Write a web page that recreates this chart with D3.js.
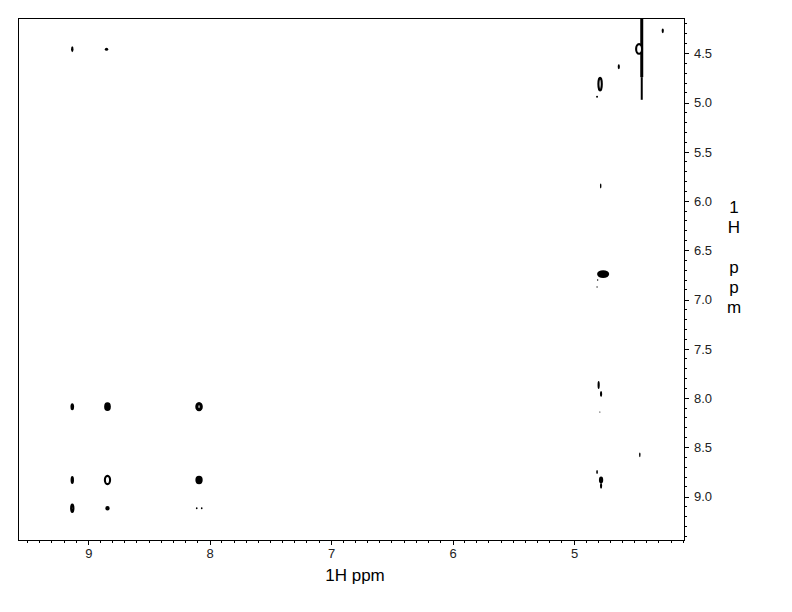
<!DOCTYPE html>
<html><head><meta charset="utf-8">
<script src="https://cdn.jsdelivr.net/npm/d3@7"></script>
<style>body{margin:0;background:#fff}svg{display:block}</style>
</head><body>
<script>
// Axis domains (ppm)
const f2Domain = [9.579, 4.094];
const f1Domain = [4.1396, 9.4396];
const f2MajorTicks = [9, 8, 7, 6, 5];
const f1MajorTicks = [4.5, 5.0, 5.5, 6.0, 6.5, 7.0, 7.5, 8.0, 8.5, 9.0];
const xTitle = "1H ppm";
const yTitleLines = ["1", "H", "", "p", "p", "m"];

// Cross peaks: F2 (ppm), F1 (ppm), extent in F2 (ppm), extent in F1 (ppm), kind
const peakF2 = [9.132, 8.850, 4.269, 4.631, 4.464, 4.785, 4.810, 4.780, 4.760, 4.805, 4.810,
                4.797, 4.777, 4.787, 4.458, 4.810, 4.777, 4.777,
                9.132, 8.842, 8.088, 9.132, 8.842, 8.088, 9.132, 8.842, 8.107, 8.066];
const peakF1 = [4.457, 4.457, 4.270, 4.634, 4.454, 4.810, 4.940, 5.845, 6.740, 6.800, 6.870,
                7.866, 7.957, 8.140, 8.575, 8.750, 8.830, 8.890,
                8.086, 8.086, 8.086, 8.830, 8.830, 8.830, 9.117, 9.117, 9.117, 9.117];
const peakW = [0.020, 0.028, 0.018, 0.018, 0.066, 0.045, 0.016, 0.012, 0.100, 0.012, 0.010,
               0.018, 0.018, 0.010, 0.012, 0.014, 0.035, 0.018,
               0.030, 0.055, 0.062, 0.028, 0.060, 0.060, 0.036, 0.036, 0.014, 0.014];
const peakH = [0.060, 0.032, 0.050, 0.050, 0.120, 0.150, 0.020, 0.050, 0.080, 0.015, 0.015,
               0.080, 0.060, 0.012, 0.050, 0.040, 0.070, 0.060,
               0.072, 0.088, 0.095, 0.082, 0.105, 0.085, 0.095, 0.045, 0.020, 0.020];
const peakKind = ["fill","fill","fill","fill","ring","ring","fill","fill","fill","fill","fill",
                  "fill","fill","fill","fill","fill","fill","fill",
                  "fill","fill","thick","fill","ring","fill","ring","ring","fill","fill"];

// t1-noise streak at the strong diagonal signal
const streakF2 = [4.442, 4.442];
const streakF1Start = [4.1396, 4.74];
const streakF1End = [4.74, 4.97];

const W = 792, H = 612;
const mLeft = 18, mRight = 684, mTop = 18, mBottom = 540;

const svg = d3.select("body").append("svg").attr("width", W).attr("height", H);
const x = d3.scaleLinear().domain(f2Domain).range([mLeft, mRight]);
const y = d3.scaleLinear().domain(f1Domain).range([mTop, mBottom]);

const font = "'Liberation Sans', Arial, sans-serif";

// Frame
svg.append("rect").attr("x", mLeft).attr("y", mTop).attr("width", mRight - mLeft).attr("height", mBottom - mTop)
  .attr("fill", "none").attr("stroke", "#000").attr("stroke-width", 1)
  .attr("shape-rendering", "crispEdges");

// Streak
svg.append("g").selectAll("line").data(streakF2).join("line")
  .attr("x1", d => x(d)).attr("x2", d => x(d))
  .attr("y1", (d, i) => y(streakF1Start[i])).attr("y2", (d, i) => y(streakF1End[i]))
  .attr("stroke", "#000").attr("stroke-width", (d, i) => i === 0 ? 3 : 2);

// Peaks
const strokeFor = k => k === "thick" ? 3.2 : k === "ring" ? 2.1 : 0;
const peaks = peakF2.map((d, i) => ({f2: d, f1: peakF1[i], w: peakW[i], h: peakH[i], kind: peakKind[i]}));
svg.append("g").selectAll("ellipse").data(peaks).join("ellipse")
  .attr("cx", d => x(d.f2)).attr("cy", d => y(d.f1))
  .attr("rx", d => Math.max(0.6, Math.abs(x(d.f2 + d.w / 2) - x(d.f2)) - strokeFor(d.kind) / 2))
  .attr("ry", d => Math.max(0.6, Math.abs(y(d.f1 + d.h / 2) - y(d.f1)) - strokeFor(d.kind) / 2))
  .attr("fill", d => d.kind === "fill" ? "#000" : "#fff")
  .attr("stroke", d => d.kind === "fill" ? "none" : "#000")
  .attr("stroke-width", d => strokeFor(d.kind));

// Bottom axis
const xAxis = d3.axisBottom(x).tickValues(f2MajorTicks).tickSize(5).tickPadding(4).tickFormat(d3.format("d"));
const gx = svg.append("g").attr("transform", `translate(0,${mBottom})`).call(xAxis);
const xMinor = d3.range(95, 40, -1).map(v => v / 10).filter(v => v <= f2Domain[0] && v >= f2Domain[1] && Math.abs(v - Math.round(v)) > 1e-6);
svg.append("g").selectAll("line").data(xMinor).join("line")
  .attr("x1", d => x(d)).attr("x2", d => x(d)).attr("y1", mBottom).attr("y2", mBottom + 3)
  .attr("stroke", "#000").attr("shape-rendering", "crispEdges");

// Right axis
const yAxis = d3.axisRight(y).tickValues(f1MajorTicks).tickSize(5).tickPadding(5).tickFormat(d3.format(".1f"));
const gy = svg.append("g").attr("transform", `translate(${mRight},0)`).call(yAxis);
const yMinor = d3.range(42, 95, 1).map(v => v / 10).filter(v => v >= f1Domain[0] && v <= f1Domain[1] && Math.abs(v * 2 - Math.round(v * 2)) > 1e-6);
svg.append("g").selectAll("line").data(yMinor).join("line")
  .attr("x1", mRight).attr("x2", mRight + 3).attr("y1", d => y(d)).attr("y2", d => y(d))
  .attr("stroke", "#000").attr("shape-rendering", "crispEdges");

[gx, gy].forEach(g => {
  g.select(".domain").remove();
  g.selectAll(".tick line").attr("stroke", "#000").attr("shape-rendering", "crispEdges");
  g.selectAll(".tick text").attr("fill", "#222").style("font-family", font).style("font-size", "13px");
});

// Titles
svg.append("text").attr("x", 355).attr("y", 581).attr("text-anchor", "middle")
  .style("font-family", font).style("font-size", "17px").attr("fill", "#000").text(xTitle);
svg.append("g").selectAll("text").data(yTitleLines).join("text")
  .attr("x", 734).attr("y", (d, i) => 213 + i * 20).attr("text-anchor", "middle")
  .style("font-family", font).style("font-size", "17px").attr("fill", "#000").text(d => d);
</script>
</body></html>
